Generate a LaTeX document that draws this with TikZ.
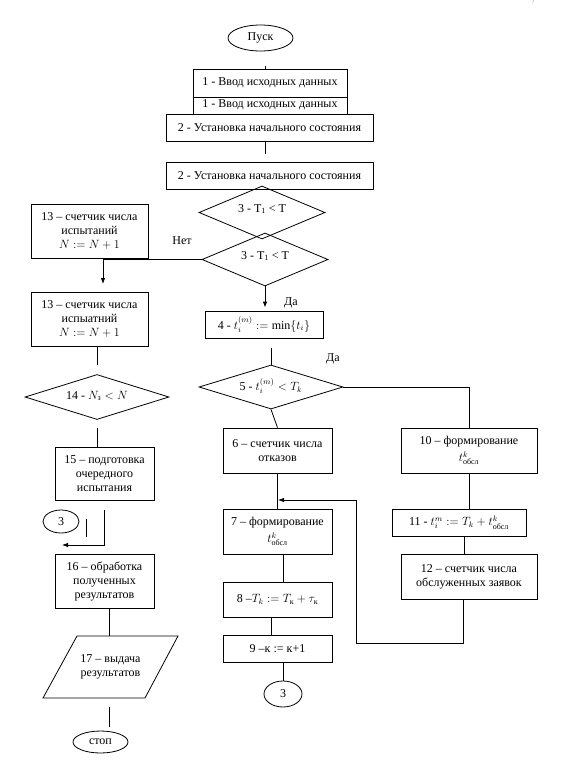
\documentclass[tikz,border=0pt]{standalone}
\usepackage{fontspec}
\setmainfont{Liberation Serif}
\usepackage{amsmath}
\usetikzlibrary{shapes.geometric,arrows.meta}
\tikzset{
  every node/.style={font=\fontsize{12}{14}\selectfont},
  line/.style={draw=black, line width=0.8pt},
  arr/.style={line, -{Latex[length=6pt,width=4.5pt]}},
  box/.style={line, rectangle, fill=white, align=center, inner sep=0pt},
  dia/.style={line, diamond, inner sep=0pt},
  oval/.style={line, ellipse, inner sep=0pt},
  lbl/.style={inner sep=0pt, align=center},
}
\begin{document}
\begin{tikzpicture}[x=1pt,y=-1pt]
\useasboundingbox[fill=white] (0,0) rectangle (564,764);
\node[lbl, font=\tiny, text=gray] (pg) at (533,2) {7};
% top
\node[oval, minimum width=65pt, minimum height=26pt] (pusk) at (260.5,38) {Пуск};
\node[box, minimum width=154pt, minimum height=28pt] (b1a) at (270,83) {1 - Ввод исходных данных};
\node[box, minimum width=154pt, minimum height=17pt, anchor=north] (b1b) at (270,97) {};
\node[lbl] (b1bt) at (270,105) {1 - Ввод исходных данных};
\node[box, minimum width=207pt, minimum height=27pt] (b2a) at (269.5,127.5) {2 - Установка начального состояния};
\node[box, minimum width=207pt, minimum height=27pt] (b2b) at (269.5,175.5) {2 - Установка начального состояния};
\node[dia, minimum width=126pt, minimum height=53pt] (d3a) at (262,212.5) {};
\node[lbl] at (262,209) {3 - T\textsubscript{1} < T};
\node[dia, minimum width=126pt, minimum height=53pt] (d3b) at (265,259.5) {};
\node[lbl] at (265,256) {3 - T\textsubscript{1} < T};
\node[lbl] (net) at (182,241) {Нет};
\node[lbl] (da1) at (291,303) {Да};
\node[lbl] (da2) at (333,359) {Да};
% left column
\node[box, minimum width=117pt, minimum height=54pt] (b13a) at (89.5,231) {13 – счетчик числа\\испытаний\\$N := N+1$};
\node[box, minimum width=117pt, minimum height=54pt] (b13b) at (89.5,319) {13 – счетчик числа\\испыатний\\$N := N+1$};
\node[dia, minimum width=144pt, minimum height=45pt] (d14) at (97,397) {};
\node[lbl] at (97,396) {14 - $N_{\text{з}} < N$};
\node[box, minimum width=99pt, minimum height=53pt] (b15) at (104.5,473.5) {15 – подготовка\\очередного\\испытания};
\node[oval, minimum width=36pt, minimum height=23pt] (c3l) at (61,521.5) {3};
\node[box, minimum width=99pt, minimum height=54pt] (b16) at (104.5,581) {16 – обработка\\полученных\\результатов};
\draw[line] (77,636) -- (178,636) -- (145,698) -- (43,698) -- cycle;
\node[lbl] (p17) at (110.5,667) {17 – выдача\\результатов};
\node[oval, minimum width=55pt, minimum height=22pt] (stop) at (100.5,742) {стоп};
% middle column
\node[box, minimum width=118pt, minimum height=27pt] (b4) at (264,324.5) {4 - $t_i^{(m)} := \min\{t_i\}$};
\node[dia, minimum width=144pt, minimum height=44pt] (d5) at (271,387) {};
\node[lbl] at (271,386) {5 - $t_i^{(m)} < T_k$};
\node[box, minimum width=109pt, minimum height=45pt] (b6) at (277.5,450.5) {6 – счетчик числа\\отказов};
\node[box, minimum width=109pt, minimum height=45pt] (b7) at (277.5,531.5) {7 – формирование\\[3pt]$t^{k}_{\text{обсл}}$};
\node[box, minimum width=109pt, minimum height=35pt] (b8) at (277.5,599.5) {8 –$T_k := T_{\text{к}} + \tau_{\text{к}}$};
\node[box, minimum width=109pt, minimum height=27pt] (b9) at (277.5,648.5) {9 –к := к+1};
\node[oval, minimum width=38pt, minimum height=26pt] (c3r) at (283,694) {3};
% right column
\node[box, minimum width=136pt, minimum height=45pt] (b10) at (469,450.5) {10 – формирование\\[3pt]$t^{k}_{\text{обсл}}$};
\node[box, minimum width=134pt, minimum height=27pt] (b11) at (459,522.5) {11 - $t_i^{m} := T_k + t^{k}_{\text{обсл}}$};
\node[box, minimum width=136pt, minimum height=45pt] (b12) at (469,576.5) {12 – счетчик числа\\обслуженных заявок};
% coordinates
\coordinate (t1) at (265.7,66);
\coordinate (t2) at (265.7,154);
\coordinate (n1) at (103,284);
\coordinate (n2) at (271,348);
\coordinate (j7) at (278,500);
\coordinate (lp) at (356,643);
\coordinate (n3) at (97,365);
\coordinate (n4) at (97,428);
\coordinate (n5) at (104,510);
\coordinate (n6) at (62,545);
\coordinate (n7) at (86,519);
\coordinate (p17t) at (109,636);
\coordinate (n8) at (109,707);
\coordinate (n9) at (109,727);
% connectors
\draw[line] (t1) -- (t1 |- b1a.north);
\draw[line] (t2 |- b2a.south) -- (t2);
\draw[arr] (d3b.west) -| (n1);
\draw[arr] (d3b.south) -- ([yshift=3pt]d3b.south |- b4.north);
\draw[line] (n2) -- (d5.north);
\draw[line] (d5.east) -| (b10.north);
\draw[line] (d5.south) -- (b6.north);
\draw[line] (b6.south) -- (b7.north);
\draw[arr] ([xshift=-6pt]b12.south) |- (lp) |- (j7);
\draw[line] ([xshift=5.5pt]b7.south) -- ([xshift=5.5pt]b8.north);
\draw[line] ([xshift=-6.5pt]b8.south) -- ([xshift=-6.5pt]b9.north);
\draw[line] (c3r.north |- b9.south) -- (c3r.north);
\draw[line] (b10.south) -- (b10.south |- b11.north);
\draw[line] ([xshift=5pt]b11.south) -- ([xshift=5pt]b11.south |- b12.north);
\draw[line] (b13b.south -| n3) -- (n3);
\draw[line] (n4) -- (n4 |- b15.north);
\draw[arr] (n5) |- (n6);
\draw[line] (n7) -- ++(0,18);
\draw[line] (b16.south -| p17t) -- (p17t);
\draw[line] (n8) -- (n9);
\end{tikzpicture}
\end{document}
